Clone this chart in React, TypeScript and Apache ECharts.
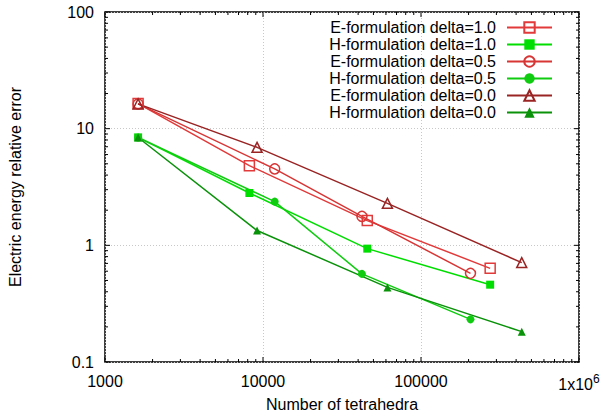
import React, { useEffect, useRef } from "react";
import * as echarts from "echarts";

const FONT = "'Liberation Sans', Arial, Helvetica, sans-serif";

const seriesNames = [
  "E-formulation delta=1.0",
  "H-formulation delta=1.0",
  "E-formulation delta=0.5",
  "H-formulation delta=0.5",
  "E-formulation delta=0.0",
  "H-formulation delta=0.0",
];

const xDelta10 = [1620, 8200, 45700, 274000];
const xDelta05 = [1620, 11860, 42300, 205700];
const xDelta00 = [1620, 9170, 61300, 434000];

const yE10 = [16.4, 4.82, 1.63, 0.635];
const yH10 = [8.42, 2.81, 0.937, 0.46];
const yE05 = [16.3, 4.52, 1.77, 0.575];
const yH05 = [8.4, 2.37, 0.569, 0.232];
const yE00 = [16.3, 6.92, 2.29, 0.711];
const yH00 = [8.4, 1.34, 0.436, 0.182];

const xMajor = [1000, 10000, 100000, 1000000];
const yMajor = [0.1, 1, 10, 100];
const xTickLabels: Record<number, string> = {
  1000: "1000",
  10000: "10000",
  100000: "100000",
  1000000: "{a|1x10}{s|6}",
};
const minorMultipliers = [2, 3, 4, 5, 6, 7, 8, 9];

const colors = ["#e23a3a", "#00dd00", "#d83535", "#10cc10", "#9a2424", "#0a920a"];

function zip(xs: number[], ys: number[]) {
  return xs.map((x, i) => [x, ys[i]]);
}

export default function App() {
  const ref = useRef<HTMLDivElement>(null);
  useEffect(() => {
    if (!ref.current) return;
    const chart = echarts.init(ref.current, null, { renderer: "svg" });

    const xMinor: number[] = [];
    for (let i = 0; i < xMajor.length - 1; i++) minorMultipliers.forEach((m) => xMinor.push(xMajor[i] * m));
    const yMinor: number[] = [];
    for (let i = 0; i < yMajor.length - 1; i++) minorMultipliers.forEach((m) => yMinor.push(+(yMajor[i] * m).toPrecision(3)));

    const mk = (
      name: string,
      xs: number[],
      ys: number[],
      color: string,
      symbol: string,
      size: number,
      hollow: boolean
    ) => ({
      name,
      type: "line",
      data: zip(xs, ys),
      symbol,
      symbolSize: size,
      showSymbol: true,
      color,
      lineStyle: { color, width: 1.5 },
      itemStyle: hollow
        ? { color: "rgba(0,0,0,0)", borderColor: color, borderWidth: 1.5 }
        : { color, borderWidth: 0 },
      z: 3,
    });

    const tickSeries = {
      type: "custom",
      name: "ticks",
      silent: true,
      data: [[1000, 0.1]],
      z: 5,
      clip: false,
      renderItem: (params: any, api: any) => {
        const bl = api.coord([xMajor[0], yMajor[0]]);
        const tr = api.coord([xMajor[xMajor.length - 1], yMajor[yMajor.length - 1]]);
        const children: any[] = [];
        const st = { stroke: "#000", lineWidth: 1 };
        const addX = (v: number, len: number) => {
          const p = api.coord([v, yMajor[0]]);
          children.push({ type: "line", shape: { x1: p[0], y1: bl[1], x2: p[0], y2: bl[1] - len }, style: st });
          children.push({ type: "line", shape: { x1: p[0], y1: tr[1], x2: p[0], y2: tr[1] + len }, style: st });
        };
        const addY = (v: number, len: number) => {
          const p = api.coord([xMajor[0], v]);
          children.push({ type: "line", shape: { x1: bl[0], y1: p[1], x2: bl[0] + len, y2: p[1] }, style: st });
          children.push({ type: "line", shape: { x1: tr[0], y1: p[1], x2: tr[0] - len, y2: p[1] }, style: st });
        };
        xMajor.forEach((v) => addX(v, 5));
        xMinor.forEach((v) => addX(v, 3));
        yMajor.forEach((v) => addY(v, 5));
        yMinor.forEach((v) => addY(v, 3));
        return { type: "group", children };
      },
    };

    chart.setOption({
      animation: false,
      backgroundColor: "#fff",
      textStyle: { fontFamily: FONT },
      grid: {
        left: 105,
        right: 24,
        top: 12,
        bottom: 55,
        show: true,
        borderColor: "#000",
        borderWidth: 1.5,
        backgroundColor: "transparent",
        outerBoundsMode: "none",
        containLabel: false,
      },
      legend: {
        data: seriesNames,
        orient: "vertical",
        right: 45,
        top: 14,
        align: "right",
        itemWidth: 45,
        itemHeight: 13,
        itemGap: 0,
        selectedMode: false,
        textStyle: { fontSize: 16, color: "#000", fontFamily: FONT, lineHeight: 17, padding: [0, 6, 0, 0] },
      },
      xAxis: {
        type: "log",
        logBase: 10,
        min: xMajor[0],
        max: xMajor[xMajor.length - 1],
        name: "Number of tetrahedra",
        nameLocation: "middle",
        nameGap: 28,
        nameTextStyle: { fontSize: 16, color: "#000", fontFamily: FONT },
        axisLine: { show: false },
        axisTick: { show: false },
        axisLabel: {
          fontSize: 16,
          color: "#000",
          margin: 11,
          fontFamily: FONT,
          formatter: (v: number) => xTickLabels[Math.round(v)] ?? String(v),
          rich: {
            a: { fontSize: 16, color: "#000", fontFamily: FONT },
            s: { fontSize: 12, color: "#000", fontFamily: FONT, verticalAlign: "top", padding: [0, 0, 10, 0] },
          },
        },
        splitLine: { show: true, lineStyle: { color: "#c8c8c8", type: [1, 2], width: 1 } },
      },
      yAxis: {
        type: "log",
        logBase: 10,
        min: yMajor[0],
        max: yMajor[yMajor.length - 1],
        name: "Electric energy relative error",
        nameLocation: "middle",
        nameGap: 82,
        nameTextStyle: { fontSize: 16, color: "#000", fontFamily: FONT },
        axisLine: { show: false },
        axisTick: { show: false },
        axisLabel: {
          fontSize: 16,
          color: "#000",
          margin: 11,
          fontFamily: FONT,
          formatter: (v: number) => String(+v.toPrecision(3)),
        },
        splitLine: { show: true, lineStyle: { color: "#c8c8c8", type: [1, 2], width: 1 } },
      },
      series: [
        mk(seriesNames[0], xDelta10, yE10, colors[0], "rect", 10, true),
        mk(seriesNames[1], xDelta10, yH10, colors[1], "rect", 8, false),
        mk(seriesNames[2], xDelta05, yE05, colors[2], "circle", 10, true),
        mk(seriesNames[3], xDelta05, yH05, colors[3], "circle", 8, false),
        mk(seriesNames[4], xDelta00, yE00, colors[4], "triangle", 10, true),
        mk(seriesNames[5], xDelta00, yH00, colors[5], "triangle", 8, false),
        tickSeries,
      ],
    });
    return () => chart.dispose();
  }, []);
  return (
    <div
      ref={ref}
      style={{ position: "fixed", left: 0, top: 0, width: 603, height: 417 }}
    />
  );
}
